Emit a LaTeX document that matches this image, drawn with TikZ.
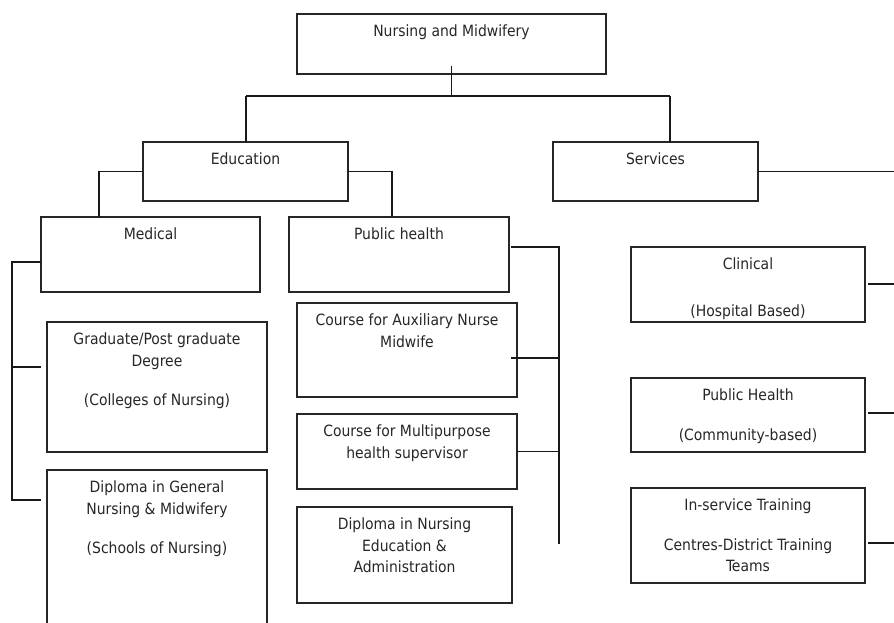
\documentclass[tikz,border=0pt]{standalone}
\usepackage{fontspec}
\setmainfont{DejaVu Sans Condensed}
\begin{document}
\begin{tikzpicture}[x=1pt,y=-1pt,
  box/.style={draw=black!85, line width=1.5pt, rectangle, inner sep=0pt, outer sep=0pt,
    anchor=north west},
  txt/.style={anchor=north, inner sep=0pt, align=center, text=black!85,
    font=\fontsize{15.5}{21.5}\selectfont},
  link/.style={draw=black!90, line width=1.7pt}]
\useasboundingbox (0,0) rectangle (894,622);
\clip (0,0) rectangle (894,622);

% box helper: name, left, top, width, height, label
\newcommand\orgbox[6]{%
  \node[box, minimum width=#4pt, minimum height=#5pt] (#1) at (#2,#3) {};
  \node[txt, yshift=-11pt] (#1-t) at (#1.north) {#6};}

\orgbox{nm}{297}{14}{309}{60}{Nursing and Midwifery}
\orgbox{edu}{143}{142}{205}{59}{Education}
\orgbox{srv}{553}{142}{205}{59}{Services}
\orgbox{med}{41}{217}{219}{75}{Medical}
\orgbox{ph}{289}{217}{220}{75}{Public health}
\orgbox{grad}{47}{322}{220}{130}{Graduate/Post graduate\\Degree\\[18pt](Colleges of Nursing)}
\orgbox{dipg}{47}{470}{220}{170}{Diploma in General\\Nursing \& Midwifery\\[18pt](Schools of Nursing)}
\orgbox{anm}{297}{303}{220}{94}{Course for Auxiliary Nurse\\Midwife}
\orgbox{mph}{297}{414}{220}{75}{Course for Multipurpose\\health supervisor}
\orgbox{dne}{297}{507}{215}{96}{Diploma in Nursing\\Education \&\\Administration}
\orgbox{cli}{631}{247}{234}{75}{Clinical\\[25pt](Hospital Based)}
\orgbox{phs}{631}{378}{234}{74}{Public Health\\[18pt](Community-based)}
\orgbox{ist}{631}{488}{234}{95}{In-service Training\\[18pt]Centres-District Training\\Teams}

% top level
\coordinate (busL) at (246,96);
\coordinate (busR) at (670,96);
\draw[link] ([yshift=8]nm.south) -- (nm.south |- busL);
\draw[link] (busL) -- (busR);
\draw[link] (busL) -- (busL |- edu.north);
\draw[link] (busR) -- (busR |- srv.north);
\coordinate (srvEnd) at (900,171.5);
\draw[link] (srv.east) -- (srv.east -| srvEnd);

% education branches
\draw[link] (edu.west) -| ([xshift=58]med.north west);
\draw[link] (edu.east) -| ([xshift=103]ph.north west);

% medical bracket
\coordinate (mTop) at (12,262);
\coordinate (mBot) at (12,500);
\coordinate (mEnd1) at (41,367);
\coordinate (mEnd2) at (41,500);
\draw[link] (med.west |- mTop) -- (mTop) -- (mBot) -- (mEnd2);
\draw[link] (mTop |- mEnd1) -- (mEnd1);

% public health bracket
\coordinate (pTop) at (559,247);
\coordinate (pBot) at (559,544);
\coordinate (pStub) at (511,358);
\draw[link] ([xshift=2]ph.east |- pTop) -- (pTop) -- (pBot);
\draw[link] (pStub) -- (pStub -| pTop);
\draw[link] (mph.east) -- (mph.east -| pTop);

% services stubs
\coordinate (e1) at (900,284);
\coordinate (e2) at (900,413);
\coordinate (e3) at (900,543);
\draw[link] ([xshift=3]cli.east |- e1) -- (e1);
\draw[link] ([xshift=3]phs.east |- e2) -- (e2);
\draw[link] ([xshift=3]ist.east |- e3) -- (e3);
\end{tikzpicture}
\end{document}
